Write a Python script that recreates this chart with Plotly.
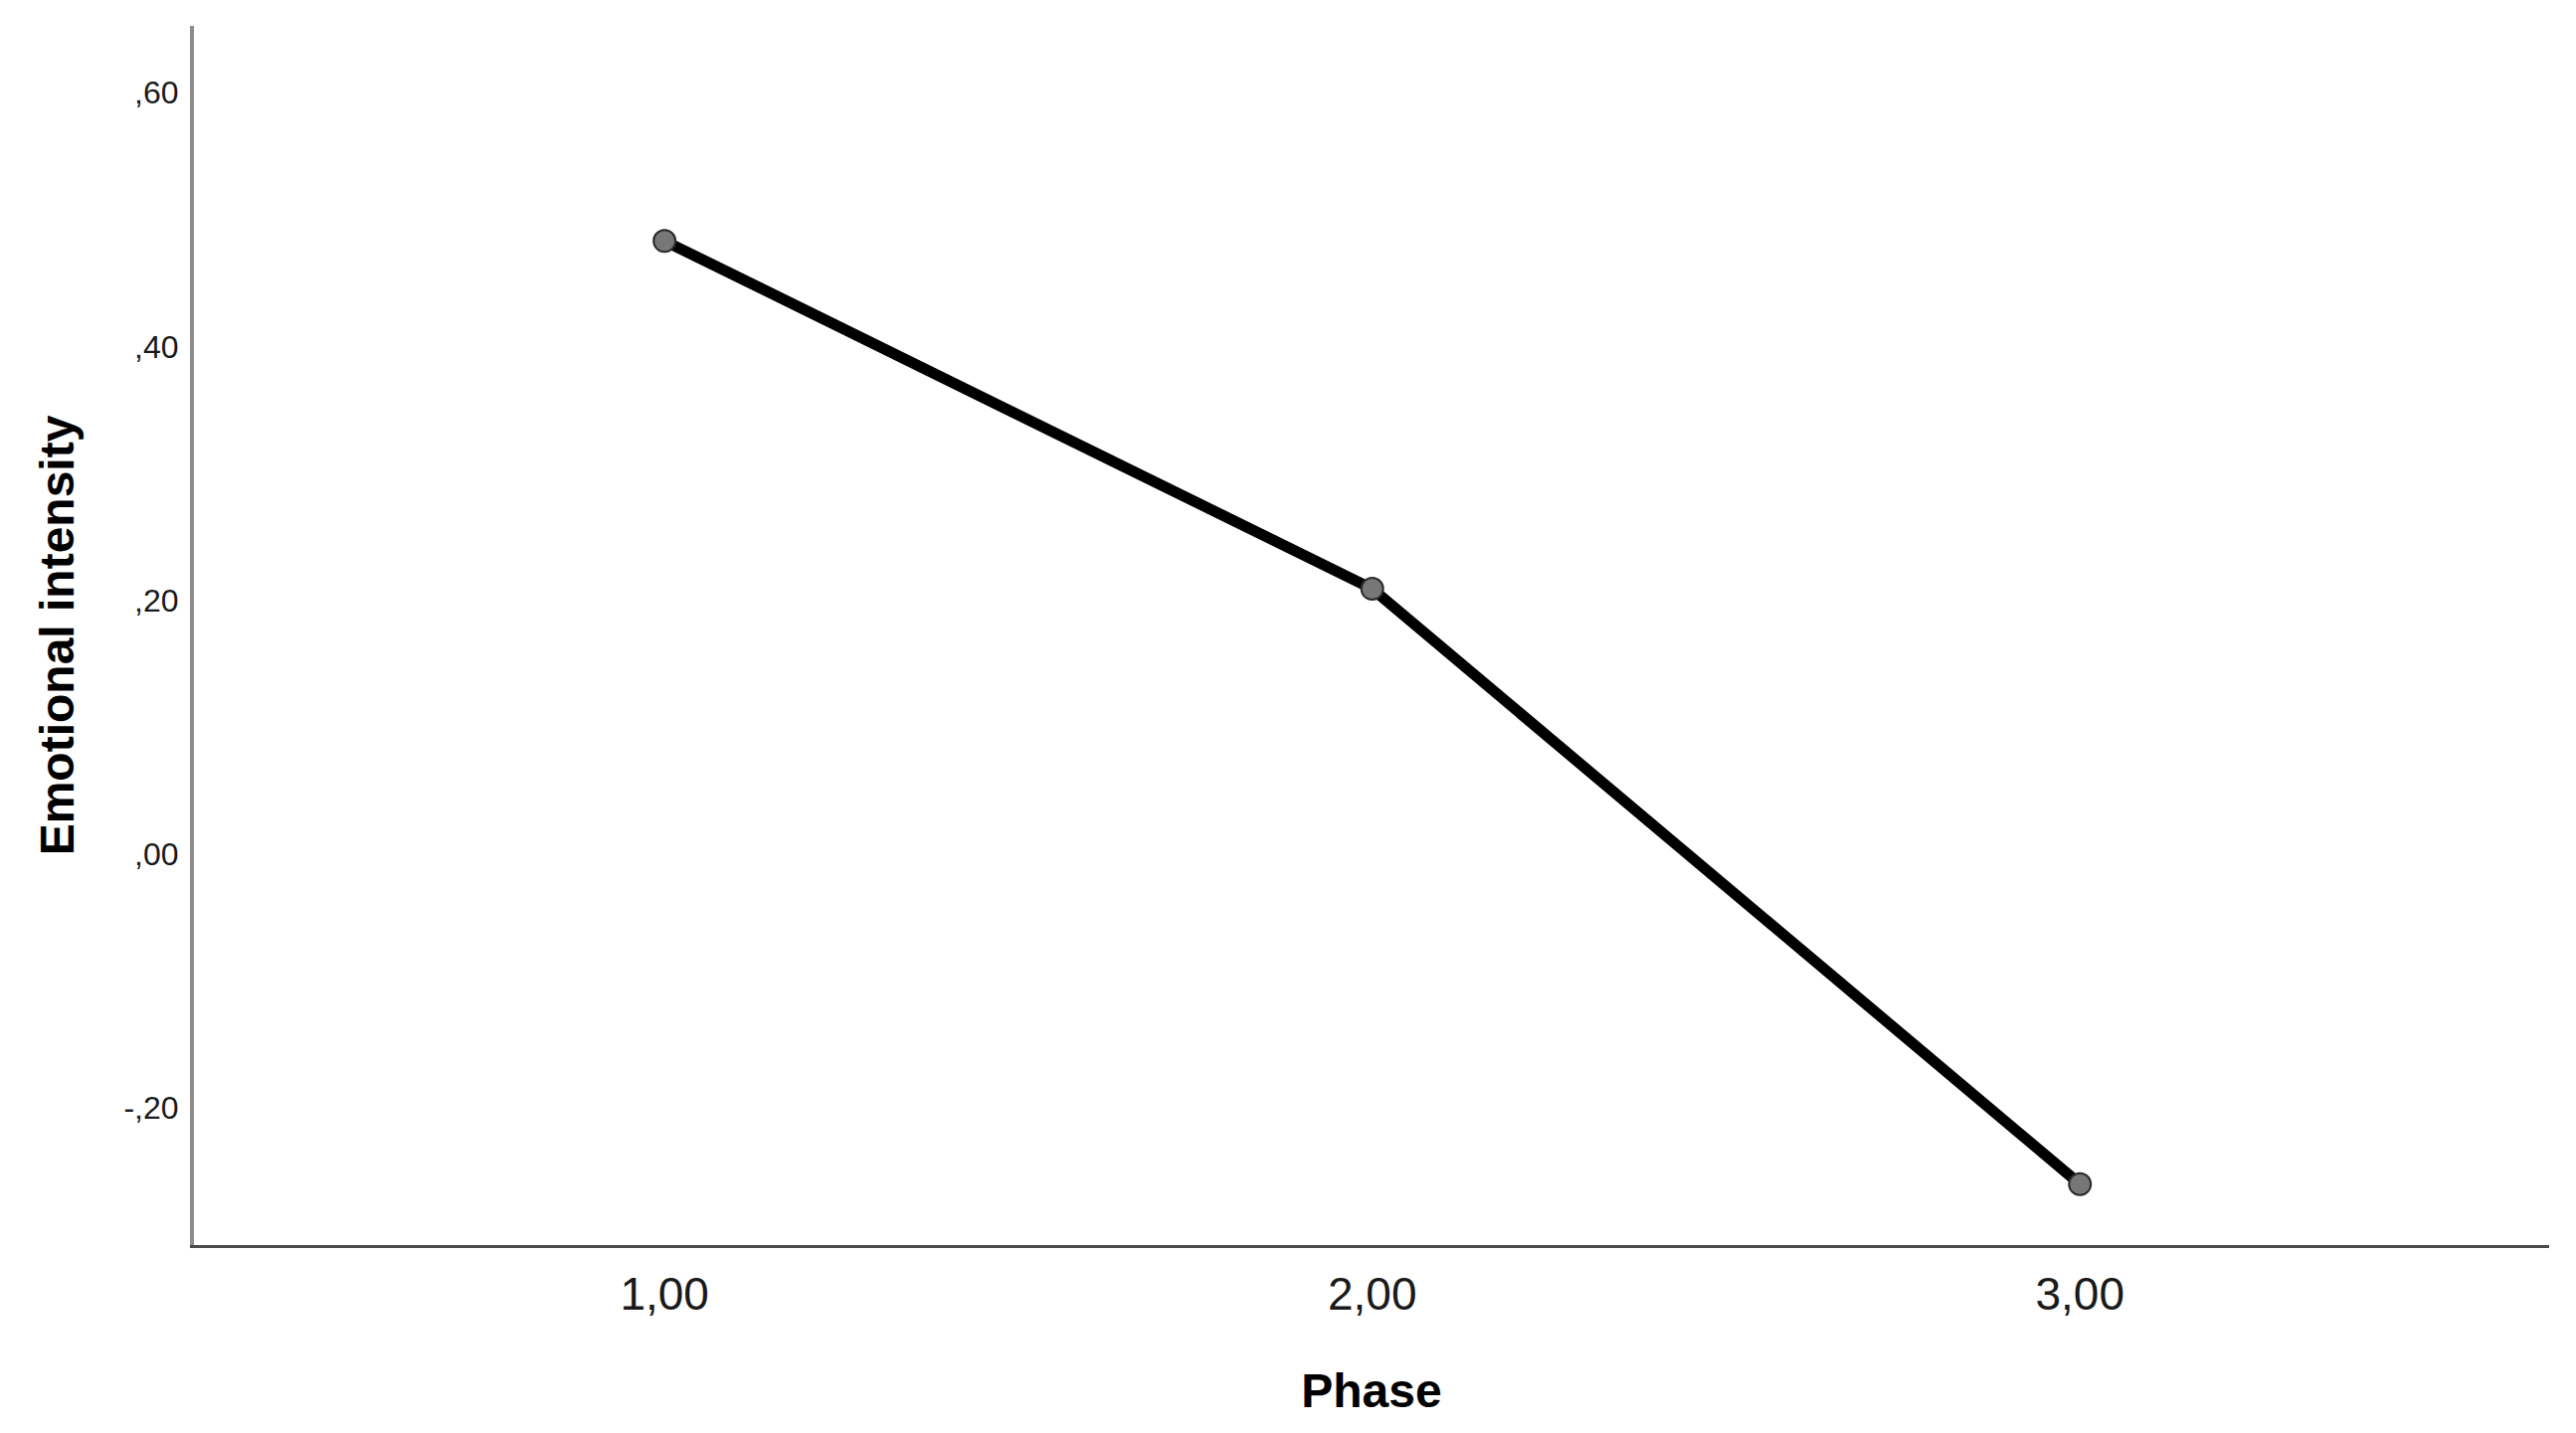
import plotly.graph_objects as go

phase = [1, 2, 3]
intensity = [0.483, 0.209, -0.260]
x_tickvals = [1, 2, 3]
x_ticktext = ["1,00", "2,00", "3,00"]
y_tickvals = [0.6, 0.4, 0.2, 0.0, -0.2]
y_ticktext = [",60", ",40", ",20", ",00", "-,20"]

FONT = "Liberation Sans, Arial, sans-serif"

fig = go.Figure()
fig.add_trace(go.Scatter(
    x=phase, y=intensity, mode="lines+markers",
    line=dict(color="black", width=11),
    marker=dict(size=22, color="#777777", line=dict(color="#2a2a2a", width=2)),
    showlegend=False,
))

fig.update_layout(
    width=2590, height=1441,
    paper_bgcolor="white", plot_bgcolor="white",
    margin=dict(l=187, r=35, t=18, b=197),
    font=dict(family=FONT, color="black"),
)
fig.update_xaxes(
    range=[0.335, 3.663], tickvals=x_tickvals, ticktext=x_ticktext,
    showgrid=False, zeroline=False,
    showline=True, linecolor="#4a4a4a", linewidth=3,
    ticks="outside", ticklen=7, tickcolor="white",
    tickfont=dict(size=46, color="#1a1a1a"),
    title=dict(text="<b>Phase</b>", font=dict(size=48, color="black"), standoff=56),
)
fig.update_yaxes(
    range=[-0.308, 0.6525], tickvals=y_tickvals, ticktext=y_ticktext,
    showgrid=False, zeroline=False,
    showline=True, linecolor="#8c8c8c", linewidth=4,
    ticks="outside", ticklen=5, tickcolor="white",
    tickfont=dict(size=32, color="#1a1a1a"),
    title=dict(text="<b>Emotional intensity</b>", font=dict(size=48, color="black"), standoff=36),
)

fig.write_html("out.html")
